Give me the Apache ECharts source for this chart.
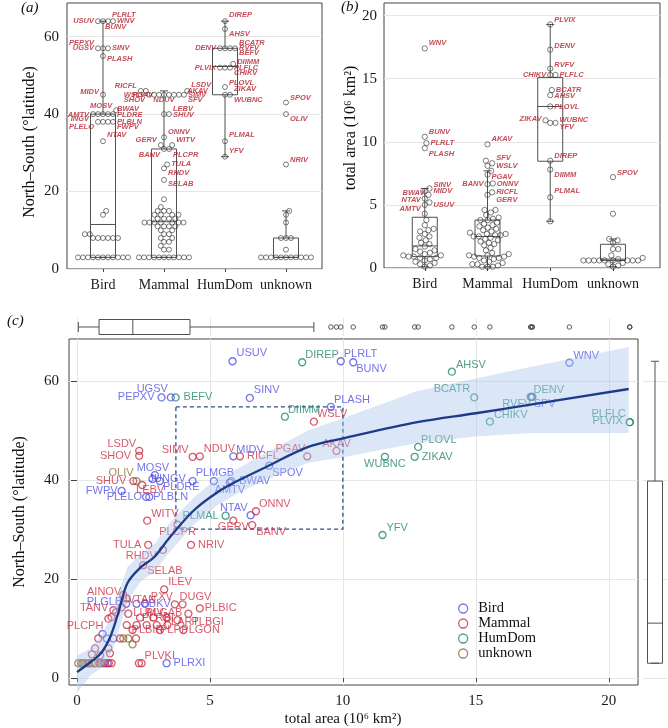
<!DOCTYPE html>
<html><head><meta charset="utf-8">
<script src="https://cdn.jsdelivr.net/npm/echarts@6/dist/echarts.min.js"></script>
<style>html,body{margin:0;padding:0;background:#fff}#c{width:668px;height:728px}</style>
</head><body><div id="c"></div><script>
// ---------------- DATA ----------------
const categories = ['Bird', 'Mammal', 'HumDom', 'unknown'];
const yTicksLat = [0, 20, 40, 60];
const yTicksArea = [0, 5, 10, 15, 20];
const xTicksArea = [0, 5, 10, 15, 20];

// Panel (a): North-South extent (deg latitude) per host group
const latBird = [[64,'USUV'],[64,'PLRLT'],[64,'WNV'],[64,'BUNV'],[57,'PEPXV'],[57,'UGSV'],[57,'SINV'],[55,'PLASH'],[45,'MIDV'],[41,'MOSV'],[40,'AMTV'],[40,'BWAV'],[40,'PLDRE'],[40,'INGV'],40,[38,'PLELO'],[38,'PLBLN'],[38,'FWPV'],38,[33,'NTAV'],15,14,9,9,8,8,8,8,8,8,3,3,3,3,3,3,3,3,3,3,3];
const latMammal = [[46,'LSDV'],[46,'AKAV'],[46,'RICFL'],[45,'WSLV'],[45,'PGAV'],[45,'SIMV'],[45,'SHOV'],[45,'NDUV'],[45,'SFV'],45,45,[40,'LEBV'],[40,'SHUV'],[34,'ONNV'],[32,'GERV'],[32,'WITV'],[31,'BANV'],[31,'PLCPR'],[27,'TULA'],[26,'RHDV'],[23,'SELAB'],18,16,15,15,15,14,14,14,14,13,13,13,13,12,12,12,12,12,12,12,11,11,11,11,10,10,9,9,8,8,7,7,6,5,5,3,3,3,3,3,3,3,3,3,3,3];
const latHumDom = [[64,'DIREP'],[62,'AHSV'],[57,'DENV'],[57,'BCATR'],[57,'RVFV'],[57,'BEFV'],[53,'DIIMM'],[52,'PLVIX'],[52,'PLFLC'],[52,'CHIKV'],[47,'PLOVL'],[45,'ZIKAV'],[45,'WUBNC'],[33,'PLMAL'],[29,'YFV']];
const latUnknown = [[43,'SPOV'],[40,'OLIV'],[27,'NRIV'],15,14,12,8,8,8,5,3,3,3,3,3,3,3,3,3,3,3];
// box stats: [group, lowWhisker, Q1, median, Q3, highWhisker]
const latBox = [[1,3,3,11.5,40,64],[2,3,3,12.2,31,46],[3,29,45,52.3,57,64],[4,3,3,3,8,15]];

// Panel (b): total area (10^6 km2)
const areaBird = [[17.4,'WNV'],[10.4,'BUNV'],[9.9,'PLRLT'],[9.5,'PLASH'],[6.3,'SINV'],[6.1,'MIDV'],[5.8,'BWAV'],[5.5,'NTAV'],[5.2,'USUV'],[5.0,'AMTV'],4.3,3.8,3.4,3.1,3.0,2.9,2.7,2.5,2.4,2.2,2.0,1.9,1.7,1.5,1.4,1.3,1.2,1.1,1.0,1.0,0.9,0.9,0.8,0.8,0.7,0.6,0.5,0.4,0.3,0.2,0.1];
const areaMammal = [[9.8,'AKAV'],[8.5,'SFV'],8.3,[8.1,'WSLV'],7.7,[7.4,'PGAV'],[6.7,'BANV'],[6.65,'ONNV'],[6.0,'RICFL'],[5.8,'GERV'],4.6,4.6,4.4,4.2,4.0,3.9,3.8,3.8,3.6,3.5,3.4,3.3,3.2,3.1,3.0,2.9,2.8,2.7,2.7,2.6,2.6,2.5,2.5,2.4,2.3,2.2,2.1,2.0,1.9,1.8,1.6,1.4,1.2,1.1,1.0,1.0,0.9,0.9,0.8,0.8,0.7,0.6,0.5,0.4,0.3,0.3,0.2,0.1,0.1,0.1];
const areaHumDom = [[19.3,'PLVIX'],[17.3,'DENV'],[15.8,'RVFV'],[15.3,'CHIKV'],[15.3,'PLFLC'],[14.1,'BCATR'],[13.7,'AHSV'],[12.8,'PLOVL'],[11.7,'WUBNC'],[11.5,'ZIKAV'],[11.5,'YFV'],[8.5,'DIREP'],[7.8,'DIIMM'],[5.6,'PLMAL'],3.7];
const areaUnknown = [[7.2,'SPOV'],4.3,2.3,2.2,2.0,1.5,1.5,1.0,0.8,0.7,0.6,0.6,0.6,0.6,0.6,0.6,0.6,0.6,0.6,0.4,0.3,0.2,0.1];
const areaBox = [[1,0.1,0.9,1.75,4.02,6.3],[2,0.1,0.95,2.5,3.8,7.7],[3,3.7,8.46,12.8,15.1,19.3],[4,0.1,0.6,0.7,1.88,2.3]];

// Panel (c): [total area, North-South, name]
const cBird = [[5.85,64,'USUV'],[9.92,64,'PLRLT'],[10.39,63.8,'BUNV'],[18.52,63.7,'WNV'],[3.18,56.7,'PEPXV'],[3.53,56.7,'UGSV'],[6.5,56.6,'SINV'],[9.55,54.8,'PLASH'],[17.1,56.8,'SPV'],[5.88,44.8,'MIDV'],[7.23,42.9,'SPOV'],[2.93,41.0,'MOSV'],[2.84,40.2,'JUNGV'],[3.12,39.8,'PLDRE'],[4.35,39.8,'PLMGB'],[5.15,39.8,''],[5.8,39.8,'BWAV'],[5.75,39.5,'AMTV'],[1.68,37.8,'FWPV'],[2.6,36.6,'PLELO'],[2.72,36.6,'PLBLN'],[6.53,32.9,'NTAV'],[1.85,15.0,'PLGLB'],[2.24,15.0,'BBKV'],[2.56,15.0,''],[0.96,8.9,''],[1.12,8.0,''],[1.37,8.0,''],[3.37,3.0,'PLRXI'],[1.0,3.0,''],[1.15,3.0,'']];
const cMammal = [[8.91,51.8,'WSLV'],[2.34,45.9,'LSDV'],[2.34,44.9,'SHOV'],[4.35,44.7,'SIMV'],[4.62,44.8,'NDUV'],[6.13,44.8,'RICFL'],[8.66,44.8,'PGAV'],[9.76,45.9,'AKAV'],[2.12,39.8,'SHUV'],[2.45,39.0,'LEBV'],[2.64,31.8,'WITV'],[3.78,31.0,'PLCPR'],[6.73,33.7,'ONNV'],[5.88,31.8,'GERV'],[6.59,30.9,'BANV'],[2.68,26.9,'TULA'],[4.29,26.9,'NRIV'],[3.23,25.9,'RHDV'],[2.49,22.8,'SELAB'],[3.28,17.9,'ILEV'],[1.74,16.8,'AINOV'],[1.87,16.1,''],[1.68,14.3,'IVTAN'],[3.68,14.9,'PXV'],[3.97,14.9,'DUGV'],[1.37,13.7,'TANV'],[1.47,13.3,''],[4.62,14.1,'PLBIC'],[1.93,13.0,'LUMV'],[4.19,13.0,'PLGAB'],[1.18,12.0,'PLCPH'],[1.3,12.3,''],[2.37,12.2,'PLRBI'],[2.87,12.2,''],[3.37,12.2,''],[3.78,11.7,'PLBGI'],[1.87,10.7,''],[2.24,10.7,''],[2.62,10.7,''],[3.0,10.7,'PLART'],[3.4,10.7,''],[2.09,9.7,'PLBIR'],[3.12,9.7,'PLP'],[4.0,9.7,'PLGON'],[0.8,8.0,''],[1.62,8.0,''],[2.22,8.0,''],[0.68,6.0,''],[1.18,6.0,''],[1.24,5.0,''],[0.56,4.8,''],[0.87,4.6,''],[2.33,3.0,''],[2.43,3.0,'PLVKI'],[0.2,3.0,''],[0.45,3.0,''],[0.65,3.0,''],[0.85,3.0,''],[1.05,3.0,''],[1.2,3.0,''],[1.3,3.0,'']];
const cHumDom = [[8.47,63.8,'DIREP'],[14.1,61.9,'AHSV'],[3.71,56.7,'BEFV'],[14.94,56.7,'BCATR'],[17.06,56.8,'DENV'],[17.13,56.8,'RVFV'],[7.82,52.8,'DIIMM'],[15.53,51.8,'CHIKV'],[20.79,51.7,'PLFLC'],[20.79,51.7,'PLVIX'],[12.83,46.7,'PLOVL'],[12.7,44.7,'ZIKAV'],[11.58,44.7,'WUBNC'],[5.59,32.8,'PLMAL'],[11.49,28.9,'YFV']];
const cUnknown = [[2.24,39.8,'OLIV'],[1.74,8.0,''],[1.93,8.0,''],[2.09,6.8,''],[0.05,3.0,''],[0.15,3.0,''],[0.25,3.0,''],[0.35,3.0,''],[0.45,3.0,''],[0.55,3.0,''],[0.7,3.0,''],[0.9,3.0,'']];
// smoother (loess) and its confidence band
const fitX  = [0, 0.5, 0.9, 1.25, 1.55, 1.9, 2.4, 2.9, 3.5, 4.4, 5.3, 6.1, 7.1, 8.7, 10, 12.8, 15, 17, 20.75];
const fitY  = [1.2, 3.2, 5.0, 8.3, 13.1, 19.2, 22.4, 24.4, 28.5, 33.9, 37.6, 40, 42.6, 46.7, 48.4, 51.7, 53.5, 55.2, 58.4];
const fitLo = [-3, 0.5, 2, 4.5, 9, 15.5, 19.5, 21.5, 25.5, 31, 35, 37.5, 40, 43.5, 44.6, 47.5, 48.8, 49.5, 49.5];
const fitHi = [4.5, 6, 8.5, 12, 17, 22.5, 25, 27, 31.5, 36.5, 40.5, 42.5, 45.5, 50, 52.5, 58, 60.5, 62.8, 66.9];
const zoomBox = [3.72, 10.0, 30.1, 54.8]; // x0, x1, y0, y1
const areaQuartiles = [0.83, 2.1, 4.25];
const latQuartiles = [3, 11.1, 39.8];

// ---------------- STYLE / LAYOUT ----------------
const COL = {Bird:'#5050e6', Mammal:'#cc2f45', HumDom:'#22876b', unknown:'#8b6b32'};
const SERIF = "'Liberation Serif','Times New Roman',serif";
const SANS = "'Liberation Sans',Arial,sans-serif";
const LAB_RED = '#b3202d';
const G = {
  a:{left:67, top:3, width:255, height:266, xmin:0.41, xmax:4.59, ymin:0, ymax:68.7},
  b:{left:384, top:3, width:276, height:265, xmin:0.35, xmax:4.75, ymin:0, ymax:21},
  c:{left:69, top:339, width:569, height:346, xmin:-0.3, xmax:21.1, ymin:-1.4, ymax:68.5},
  t:{left:69, top:318, width:569, height:18},
  r:{left:643, top:339, width:24, height:346}
};
const labA = {
 USUV:['L',0], PLRLT:['R',-6,-5], WNV:['R',0], BUNV:['R',6,-12],
 PEPXV:['L',-5], UGSV:['L',0], SINV:['R',0], PLASH:['R',3],
 MIDV:['L',-3], MOSV:['L',-4], AMTV:['L',1], BWAV:['R',-5], PLDRE:['R',1], INGV:['L',5],
 PLELO:['L',5], PLBLN:['R',0], FWPV:['R',5], NTAV:['R',-6],
 LSDV:['R',-6], AKAV:['R',0,-4], RICFL:['L',-5], WSLV:['L',0], PGAV:['L',0,-8], SIMV:['R',0], SHOV:['L',5], NDUV:['C',5], SFV:['R',5],
 LEBV:['R',-5], SHUV:['R',1], ONNV:['R',-5], GERV:['L',-5], WITV:['R',-5], BANV:['L',6], PLCPR:['R',6], TULA:['R',-1], RHDV:['R',5], SELAB:['R',4],
 DIREP:['R',-6], AHSV:['R',5], BCATR:['R',-5], DENV:['L',0], RVFV:['R',0], BEFV:['R',5], DIIMM:['R',-2], PLVIX:['L',0], PLFLC:['R',0], CHIKV:['R',5], PLOVL:['R',-4], ZIKAV:['R',-6], WUBNC:['R',5], PLMAL:['R',-6], YFV:['R',-6],
 SPOV:['R',-5], OLIV:['R',5], NRIV:['R',-5]
};
const labB = {
 WNV:['R',-5], BUNV:['R',-5], PLRLT:['R',0], PLASH:['R',6], SINV:['R',-4], MIDV:['R',0], BWAV:['L',-2], NTAV:['L',1], USUV:['R',3], AMTV:['L',4],
 AKAV:['R',-5], SFV:['R',-3], WSLV:['R',0], PGAV:['R',2], BANV:['L',0], ONNV:['R',0], RICFL:['R',0], GERV:['R',5],
 PLVIX:['R',-5], DENV:['R',-4], RVFV:['R',-4], CHIKV:['L',0], PLFLC:['R',0], BCATR:['R',0], AHSV:['R',1], PLOVL:['R',0], ZIKAV:['L',-4], WUBNC:['R',0], YFV:['R',4], DIREP:['R',-5], DIIMM:['R',5], PLMAL:['R',-6],
 SPOV:['R',-4]
};
const labC = {
 USUV:[4,-8,'left'], DIREP:[3,-7,'left'], PLRLT:[3,-7,'left'], BUNV:[3,7,'left'], WNV:[4,-7,'left'],
 PEPXV:[-7,0,'right'], UGSV:[-3,-8,'right'], BEFV:[8,0,'left'], SINV:[4,-8,'left'], PLASH:[3,-7,'left'],
 DIIMM:[3,-7,'left'], WSLV:[3,-8,'left'], LSDV:[-3,-7,'right'], SHOV:[-8,0,'right'], SIMV:[-4,-7,'right'], NDUV:[4,-7,'left'], MIDV:[3,-6,'left'], RICFL:[7,0,'left'], PGAV:[-2,-7,'right'], AKAV:[0,-7,'center'], SPOV:[3,7,'left'],
 MOSV:[-2,-7,'center'], OLIV:[-3,-8,'right'], SHUV:[-7,0,'right'], JUNGV:[-4,0,'left'], LEBV:[-6,5,'left'], PLDRE:[3,6,'left'], FWPV:[-4,0,'right'], PLELO:[-4,0,'right'], PLBLN:[4,0,'left'],
 PLMGB:[3,-8,'left'], BWAV:[8,0,'left'], AMTV:[0,7,'center'], NTAV:[-3,-7,'right'],
 WITV:[4,-7,'left'], PLCPR:[0,7,'center'], PLMAL:[-7,0,'right'], ONNV:[3,-7,'left'], GERV:[0,6,'center'], BANV:[4,7,'left'],
 TULA:[-7,0,'right'], NRIV:[7,0,'left'], RHDV:[-6,6,'right'], SELAB:[4,6,'left'], ILEV:[4,-7,'left'], YFV:[4,-7,'left'],
 AHSV:[4,-7,'left'], BCATR:[-4,-8,'right'], DENV:[3,-7,'left'], RVFV:[-1,7,'right'], SPV:[2,7,'left'], CHIKV:[4,-7,'left'], PLFLC:[-4,-8,'right'], PLVIX:[-7,-1,'right'], PLOVL:[3,-7,'left'], ZIKAV:[7,0,'left'], WUBNC:[0,7,'center'],
 AINOV:[-2,-3,'right'], PLGLB:[-4,-2,'right'], IVTAN:[3,-7,'left'], PXV:[-2,-7,'right'], DUGV:[-3,-7,'left'], BBKV:[5,0,'left'], TANV:[-5,-2,'right'], LUMV:[5,-1,'left'], PLGAB:[-6,-1,'right'], PLBIC:[5,0,'left'], PLRBI:[2,0,'left'], PLBGI:[14,2,'left'], PLCPH:[-5,7,'right'], PLART:[7,-3,'left'], PLBIR:[-1,0,'left'], PLP:[0,0,'left'], PLGON:[-2,0,'left'], PLVKI:[3,-7,'left'], PLRXI:[7,0,'left']
};

// ---------------- HELPERS ----------------
function norm(g){ return g.map(p => Array.isArray(p) ? {v:p[0], n:p[1]} : {v:p, n:''}); }
function swarmOffsets(vals, pxY, d){
  const idx = vals.map((v,i)=>i).sort((a,b)=>vals[a]-vals[b]);
  const placed = [], out = new Array(vals.length);
  idx.forEach(i => {
    const py = vals[i]*pxY;
    const cands = [0];
    placed.forEach(p => { const dy = Math.abs(p.py-py); if (dy < d){ const dx = Math.sqrt(d*d-dy*dy); cands.push(p.px+dx, p.px-dx);} });
    cands.sort((a,b)=>Math.abs(a)-Math.abs(b));
    const best = cands.find(c => placed.every(p => (p.px-c)*(p.px-c)+(p.py-py)*(p.py-py) >= d*d-1e-6));
    placed.push({px:best, py}); out[i] = best;
  });
  return out;
}
function swarmItems(groups, g, d, labMap){
  const pxX = g.width/(g.xmax-g.xmin), pxY = g.height/(g.ymax-g.ymin);
  const items = [];
  groups.forEach((grp, gi) => {
    const pts = norm(grp);
    const offs = swarmOffsets(pts.map(p=>p.v), pxY, d);
    pts.forEach((p, k) => {
      const it = {value:[gi+1+offs[k]/pxX, p.v]};
      const L = p.n && labMap[p.n];
      if (L){
        const [side, dy, extra=0] = L;
        let mx=-1e9, mn=1e9;
        pts.forEach((q,m)=>{ if (Math.abs(q.v-p.v)*pxY < 3){ mx=Math.max(mx,offs[m]); mn=Math.min(mn,offs[m]); } });
        let dx, align;
        if (side==='R'){ dx = mx-offs[k]+4+extra; align='left'; }
        else if (side==='L'){ dx = mn-offs[k]-4-extra; align='right'; }
        else { dx = -offs[k]+extra; align='center'; }
        it.label = {show:true, position:'inside', align, verticalAlign:'middle', offset:[dx,dy], formatter:p.n,
          color:LAB_RED, fontSize:7.5, fontStyle:'italic', fontWeight:'bold', fontFamily:SANS};
      }
      items.push(it);
    });
  });
  return items;
}
function cItems(arr, color){
  return arr.map(p => {
    const it = {value:[p[0], p[1]]};
    const L = p[2] && labC[p[2]];
    if (L){
      it.label = {show:true, position:'inside', align:L[2], verticalAlign:'middle', offset:[L[0],L[1]], formatter:p[2],
        color, fontSize:11, fontFamily:SANS};
    }
    return it;
  });
}
function boxRender(horizontal, boxW, capW, fill){
  return function(params, api){
    const c=api.value(0), lo=api.value(1), q1=api.value(2), md=api.value(3), q3=api.value(4), hi=api.value(5);
    const P = v => horizontal ? api.coord([v, c]) : api.coord([c, v]);
    const pLo=P(lo), pQ1=P(q1), pMd=P(md), pQ3=P(q3), pHi=P(hi);
    const st = {stroke:'#505050', lineWidth:1, fill:null};
    const hw=boxW/2, cw=capW/2, ch=[];
    if (!horizontal){
      const x = pMd[0];
      ch.push({type:'rect', shape:{x:x-hw, y:pQ3[1], width:boxW, height:pQ1[1]-pQ3[1]}, style:{stroke:'#505050', lineWidth:1, fill:fill}});
      ch.push({type:'line', shape:{x1:x,y1:pQ3[1],x2:x,y2:pHi[1]}, style:st});
      ch.push({type:'line', shape:{x1:x,y1:pQ1[1],x2:x,y2:pLo[1]}, style:st});
      ch.push({type:'line', shape:{x1:x-cw,y1:pHi[1],x2:x+cw,y2:pHi[1]}, style:st});
      ch.push({type:'line', shape:{x1:x-cw,y1:pLo[1],x2:x+cw,y2:pLo[1]}, style:st});
      ch.push({type:'line', shape:{x1:x-hw,y1:pMd[1],x2:x+hw,y2:pMd[1]}, style:st});
    } else {
      const y = pMd[1];
      ch.push({type:'rect', shape:{x:pQ1[0], y:y-hw, width:pQ3[0]-pQ1[0], height:boxW}, style:{stroke:'#505050', lineWidth:1, fill:fill}});
      ch.push({type:'line', shape:{x1:pQ3[0],y1:y,x2:pHi[0],y2:y}, style:st});
      ch.push({type:'line', shape:{x1:pQ1[0],y1:y,x2:pLo[0],y2:y}, style:st});
      ch.push({type:'line', shape:{x1:pHi[0],y1:y-cw,x2:pHi[0],y2:y+cw}, style:st});
      ch.push({type:'line', shape:{x1:pLo[0],y1:y-cw,x2:pLo[0],y2:y+cw}, style:st});
      ch.push({type:'line', shape:{x1:pMd[0],y1:y-hw,x2:pMd[0],y2:y+hw}, style:st});
    }
    return {type:'group', children:ch};
  };
}
function whiskers(vals, q){
  const iqr = q[2]-q[0], hiF = q[2]+1.5*iqr, loF = q[0]-1.5*iqr;
  const inside = vals.filter(v => v>=loF && v<=hiF);
  return {lo:Math.min(...inside), hi:Math.max(...inside), out:vals.filter(v => v<loF || v>hiF)};
}

// ---------------- BUILD ----------------
const allC = [...cBird, ...cMammal, ...cHumDom, ...cUnknown];
const wX = whiskers(allC.map(p=>p[0]), areaQuartiles);
const wY = whiskers(allC.map(p=>p[1]), latQuartiles);
const topBox = [[0.5, wX.lo, areaQuartiles[0], areaQuartiles[1], areaQuartiles[2], wX.hi]];
const rightBox = [[0.5, wY.lo, latQuartiles[0], latQuartiles[1], latQuartiles[2], wY.hi]];

const gridLine = {show:true, lineStyle:{color:'#e6e6e6', width:1}};
const frame = {show:true, borderColor:'#444', borderWidth:1, backgroundColor:'transparent'};
const axisFont = {fontFamily:SERIF, fontSize:15, color:'#1a1a1a'};

const option = {
  animation:false,
  backgroundColor:'#fff',
  grid:[
    Object.assign({left:G.a.left, top:G.a.top, width:G.a.width, height:G.a.height}, frame),
    Object.assign({left:G.b.left, top:G.b.top, width:G.b.width, height:G.b.height}, frame),
    Object.assign({left:G.c.left, top:G.c.top, width:G.c.width, height:G.c.height}, frame),
    {left:G.t.left, top:G.t.top, width:G.t.width, height:G.t.height, show:false},
    {left:G.r.left, top:G.r.top, width:G.r.width, height:G.r.height, show:false}
  ],
  xAxis:[
    {gridIndex:0, type:'value', min:G.a.xmin, max:G.a.xmax, axisLine:{show:false}, splitLine:{show:false},
     axisTick:{show:true, customValues:[1,2,3,4], length:3, lineStyle:{color:'#444'}},
     axisLabel:Object.assign({customValues:[1,2,3,4], formatter:v=>categories[Math.round(v)-1], margin:9}, axisFont, {fontSize:14})},
    {gridIndex:1, type:'value', min:G.b.xmin, max:G.b.xmax, axisLine:{show:false}, splitLine:{show:false},
     axisTick:{show:true, customValues:[1,2,3,4], length:3, lineStyle:{color:'#444'}},
     axisLabel:Object.assign({customValues:[1,2,3,4], formatter:v=>categories[Math.round(v)-1], margin:9}, axisFont, {fontSize:14})},
    {gridIndex:2, type:'value', min:G.c.xmin, max:G.c.xmax, axisLine:{show:false}, splitLine:gridLine,
     axisTick:{show:true, customValues:xTicksArea, length:4, lineStyle:{color:'#444'}},
     axisLabel:Object.assign({customValues:xTicksArea, margin:9}, axisFont)},
    {gridIndex:3, type:'value', min:G.c.xmin, max:G.c.xmax, axisLine:{show:false}, axisLabel:{show:false},
     axisTick:{show:false, customValues:xTicksArea}, splitLine:gridLine},
    {gridIndex:4, type:'value', min:0, max:1, show:false}
  ],
  yAxis:[
    {gridIndex:0, type:'value', min:G.a.ymin, max:G.a.ymax, axisLine:{show:false}, splitLine:gridLine,
     axisTick:{show:false, customValues:yTicksLat}, axisLabel:Object.assign({customValues:yTicksLat, margin:8}, axisFont)},
    {gridIndex:1, type:'value', min:G.b.ymin, max:G.b.ymax, axisLine:{show:false}, splitLine:gridLine,
     axisTick:{show:false, customValues:yTicksArea}, axisLabel:Object.assign({customValues:yTicksArea, margin:7}, axisFont)},
    {gridIndex:2, type:'value', min:G.c.ymin, max:G.c.ymax, axisLine:{show:false}, splitLine:gridLine,
     axisTick:{show:true, customValues:yTicksLat, length:6, lineStyle:{color:'#444'}},
     axisLabel:Object.assign({customValues:yTicksLat, margin:10}, axisFont)},
    {gridIndex:3, type:'value', min:0, max:1, show:false},
    {gridIndex:4, type:'value', min:G.c.ymin, max:G.c.ymax, axisLine:{show:false}, axisLabel:{show:false},
     axisTick:{show:false, customValues:yTicksLat}, splitLine:gridLine}
  ],
  legend:{
    left:453, top:596, orient:'vertical', itemWidth:20, itemHeight:9, itemGap:0,
    textStyle:{fontFamily:SERIF, fontSize:14.5, color:'#111', lineHeight:14},
    data:['Bird','Mammal','HumDom','unknown'].map(n => ({name:n, icon:'circle',
      itemStyle:{color:'transparent', borderColor:COL[n], borderWidth:1.3}}))
  },
  series:[
    // panel a
    {type:'custom', xAxisIndex:0, yAxisIndex:0, z:1, renderItem:boxRender(false, 25, 8, 'transparent'),
     encode:{x:0, y:[1,2,3,4,5]}, data:latBox},
    {type:'scatter', xAxisIndex:0, yAxisIndex:0, z:2, symbol:'circle', symbolSize:5,
     itemStyle:{color:'transparent', borderColor:'#333', borderWidth:0.8},
     data:swarmItems([latBird, latMammal, latHumDom, latUnknown], G.a, 5, labA)},
    // panel b
    {type:'custom', xAxisIndex:1, yAxisIndex:1, z:1, renderItem:boxRender(false, 25, 8, 'transparent'),
     encode:{x:0, y:[1,2,3,4,5]}, data:areaBox},
    {type:'scatter', xAxisIndex:1, yAxisIndex:1, z:2, symbol:'circle', symbolSize:5.3,
     itemStyle:{color:'transparent', borderColor:'#333', borderWidth:0.8},
     data:swarmItems([areaBird, areaMammal, areaHumDom, areaUnknown], G.b, 5.3, labB)},
    // panel c points
    ...['Bird','Mammal','HumDom','unknown'].map((n,i) => ({
      name:n, type:'scatter', xAxisIndex:2, yAxisIndex:2, z:2, symbol:'circle', symbolSize:7,
      itemStyle:{color:'transparent', borderColor:COL[n], borderWidth:1.3},
      data:cItems([cBird, cMammal, cHumDom, cUnknown][i], COL[n])
    })),
    // confidence band
    {type:'custom', xAxisIndex:2, yAxisIndex:2, z:4, silent:true, data:[0],
     renderItem:function(params, api){
       const pts = [];
       fitX.forEach((x,i)=>pts.push(api.coord([x, fitHi[i]])));
       for (let i=fitX.length-1;i>=0;i--) pts.push(api.coord([fitX[i], fitLo[i]]));
       return {type:'polygon', shape:{points:pts}, style:{fill:'rgba(170,196,235,0.42)', stroke:null}};
     }},
    // smoother
    {type:'line', xAxisIndex:2, yAxisIndex:2, z:5, showSymbol:false, smooth:0.35, silent:true,
     lineStyle:{color:'#1b3c88', width:2.3},
     data:fitX.map((x,i)=>[x, fitY[i]]),
     markArea:{silent:true, itemStyle:{color:'transparent', borderColor:'#2e4f8e', borderWidth:1.3, borderType:[4,3]},
       data:[[{coord:[zoomBox[0], zoomBox[3]]},{coord:[zoomBox[1], zoomBox[2]]}]]}},
    // top marginal boxplot
    {type:'custom', xAxisIndex:3, yAxisIndex:3, z:3, renderItem:boxRender(true, 15, 10, '#fff'),
     encode:{y:0, x:[1,2,3,4,5]}, data:topBox},
    {type:'scatter', xAxisIndex:3, yAxisIndex:3, z:3, symbol:'circle', symbolSize:4.5,
     itemStyle:{color:'transparent', borderColor:'#333', borderWidth:1},
     data:wX.out.map(v=>[v, 0.5])},
    // right marginal boxplot
    {type:'custom', xAxisIndex:4, yAxisIndex:4, z:3, renderItem:boxRender(false, 15, 8, '#fff'),
     encode:{x:0, y:[1,2,3,4,5]}, data:rightBox},
    {type:'scatter', xAxisIndex:4, yAxisIndex:4, z:3, symbol:'circle', symbolSize:4.5,
     itemStyle:{color:'transparent', borderColor:'#333', borderWidth:1},
     data:wY.out.map(v=>[0.5, v])}
  ],
  graphic:[
    {type:'text', x:21, y:1, style:{text:'(a)', font:'italic 15px '+SERIF, fill:'#111'}},
    {type:'text', x:341, y:0, style:{text:'(b)', font:'italic 15px '+SERIF, fill:'#111'}},
    {type:'text', x:7, y:314, style:{text:'(c)', font:'italic 15px '+SERIF, fill:'#111'}},
    {type:'text', x:30, y:142, rotation:Math.PI/2, style:{text:'North\u2013South (\u00b0latitude)', font:'16px '+SERIF, fill:'#111', align:'center', verticalAlign:'middle'}},
    {type:'text', x:351, y:128, rotation:Math.PI/2, style:{text:'total area (10\u2076 km\u00b2)', font:'16px '+SERIF, fill:'#111', align:'center', verticalAlign:'middle'}},
    {type:'text', x:20, y:512, rotation:Math.PI/2, style:{text:'North\u2013South (\u00b0latitude)', font:'16px '+SERIF, fill:'#111', align:'center', verticalAlign:'middle'}},
    {type:'text', x:343, y:719, style:{text:'total area (10\u2076 km\u00b2)', font:'15px '+SERIF, fill:'#111', align:'center', verticalAlign:'middle'}}
  ]
};
const chart = echarts.init(document.getElementById('c'), null, {renderer:'canvas'});
chart.setOption(option);
</script></body></html>
